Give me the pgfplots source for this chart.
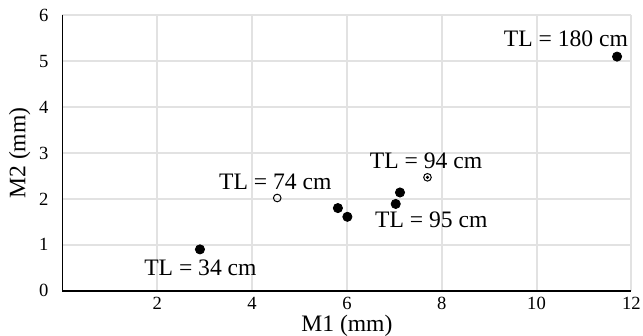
\documentclass[border=0pt]{standalone}
\usepackage{fontspec}
\setmainfont{Liberation Serif}
\usepackage{pgfplots}
\pgfplotsset{compat=1.18}
\definecolor{gridc}{HTML}{E2E2E2}
\begin{document}
\begin{tikzpicture}
\begin{axis}[
  scale only axis,
  width=284.4pt, height=137.7pt,
  xmin=0, xmax=12, ymin=0, ymax=6,
  xtick={2,4,6,8,10,12},
  ytick={0,1,2,3,4,5,6},
  axis x line=bottom, axis y line=left,
  axis line style={black, line width=0.85pt, -},
  major tick length=0pt,
  grid=major,
  major grid style={gridc, line width=1pt},
  /pgf/number format/assume math mode=true,
  tick label style={font=\fontsize{9.3}{10}\selectfont},
  xticklabel style={inner sep=0.5pt, yshift=-2.4pt},
  yticklabel style={xshift=-3.5pt},
  xlabel={M1 (mm)}, ylabel={M2 (mm)},
  label style={font=\fontsize{11.8}{14}\selectfont, inner sep=0pt},
  xlabel style={at={(axis description cs:0.5,0)}, anchor=center, yshift=-17.4pt},
  ylabel style={at={(axis description cs:0,0.5)}, anchor=center, xshift=0pt, yshift=21.4pt},
  clip=false,
]
\addplot[only marks, mark=*, mark size=2.3pt, black] coordinates {
 (2.9,0.9) (5.81,1.80) (6.01,1.61) (7.03,1.89) (7.12,2.14) (11.70,5.10)
};
\addplot[only marks, mark=o, mark size=1.9pt, black, mark options={line width=0.5pt, fill=white}] coordinates {
 (4.53,2.02)
};
\addplot[only marks, mark=o, mark size=1.9pt, black, mark options={line width=0.5pt, fill=white}] coordinates {
 (7.70,2.47)
};
\addplot[only marks, mark=*, mark size=0.6pt, black] coordinates {
 (7.70,2.47)
};
\begin{scope}[every node/.style={font=\fontsize{11.8}{13}\selectfont, inner sep=0pt}]
\node at (axis cs:10.62,5.48) {TL = 180 cm};
\node at (axis cs:7.67,2.82) {TL = 94 cm};
\node at (axis cs:4.49,2.37) {TL = 74 cm};
\node at (axis cs:7.78,1.54) {TL = 95 cm};
\node at (axis cs:2.91,0.49) {TL = 34 cm};
\end{scope}
\end{axis}
\pgfresetboundingbox
\path (-31.25pt,-22.65pt) rectangle (290.25pt,145.35pt);
\end{tikzpicture}
\end{document}
